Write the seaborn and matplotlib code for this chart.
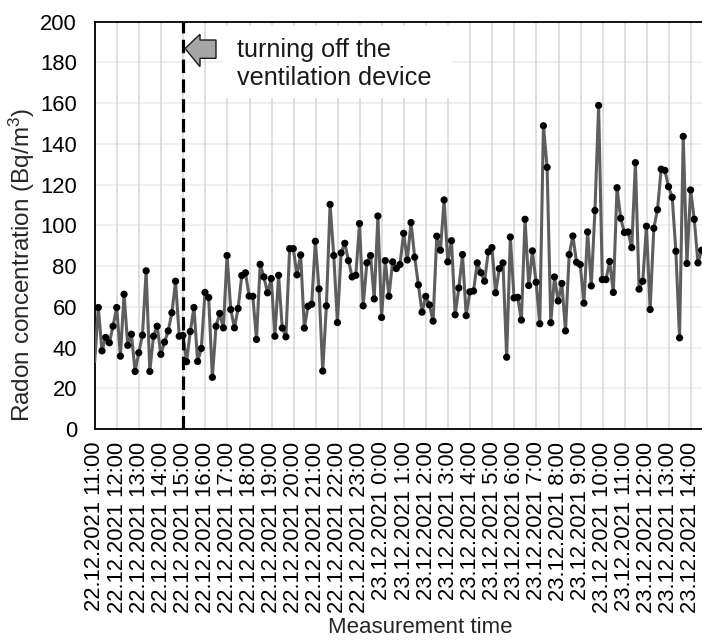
import matplotlib
matplotlib.use("Agg")
import matplotlib.pyplot as plt
import seaborn as sns
import numpy as np
import pandas as pd
from matplotlib.patches import Rectangle, Polygon

# ---- data (10-minute readings from 22.12.2021 10:59 onwards) ----
radon = [
    33.0, 59.7, 38.4, 45.0, 42.4, 50.5, 59.7, 35.8, 66.2, 41.1,
    46.6, 28.3, 37.5, 46.1, 77.7, 28.3, 45.6, 50.5, 36.7, 42.7,
    48.2, 57.1, 72.6, 45.6, 46.0, 33.1, 47.9, 59.7, 33.2, 39.6,
    67.1, 64.6, 25.4, 50.5, 56.8, 49.7, 85.2, 58.7, 49.7, 59.2,
    75.4, 76.7, 65.3, 65.2, 44.0, 80.9, 74.7, 66.9, 73.9, 45.6,
    75.5, 49.6, 45.3, 88.6, 88.6, 75.7, 85.5, 49.6, 60.3, 61.3,
    92.2, 68.8, 28.5, 60.5, 110.3, 85.2, 52.3, 86.5, 91.2, 82.7,
    74.7, 75.5, 100.9, 60.5, 81.6, 85.2, 63.9, 104.6, 54.8, 82.7,
    65.2, 82.1, 78.8, 80.8, 96.1, 83.0, 101.4, 84.4, 70.8, 57.4,
    65.2, 61.0, 53.0, 94.7, 87.8, 112.5, 82.1, 92.5, 56.1, 69.3,
    85.7, 55.7, 67.4, 67.8, 81.6, 76.8, 72.6, 87.0, 89.1, 66.9,
    78.8, 81.6, 35.3, 94.3, 64.4, 64.7, 53.5, 103.0, 70.5, 87.5,
    72.1, 51.7, 148.9, 128.5, 52.2, 74.7, 62.9, 71.5, 48.2, 85.7,
    94.8, 81.9, 80.8, 61.8, 96.8, 70.3, 107.3, 158.9, 73.4, 73.4,
    82.3, 67.1, 118.5, 103.5, 96.5, 96.8, 89.1, 130.8, 68.7, 72.6,
    99.6, 58.7, 98.6, 107.7, 127.6, 127.0, 119.0, 113.8, 87.3, 44.8,
    143.7, 81.3, 117.4, 103.0, 81.6, 87.8,
]
start = pd.Timestamp("2021-12-22 11:00")
times = pd.date_range("2021-12-22 10:59", periods=len(radon), freq="10min")
tick_times = pd.date_range("2021-12-22 11:00", "2021-12-23 14:00", freq="h")
tick_labels = [f"{t:%d.%m.%Y} {t.hour}:{t:%M}" for t in tick_times]
event_time = pd.Timestamp("2021-12-22 15:00")
event_text = "turning off the\nventilation device"

hours = (times - start) / pd.Timedelta(hours=1)
tick_pos = (tick_times - start) / pd.Timedelta(hours=1)
event_pos = (event_time - start) / pd.Timedelta(hours=1)
df = pd.DataFrame({"hours": hours, "radon": radon})

# ---- style ----
sns.set_style("white")
plt.rcParams["font.family"] = ["Liberation Sans", "DejaVu Sans"]
plt.rcParams["mathtext.fontset"] = "custom"
plt.rcParams["mathtext.rm"] = "Liberation Sans"
plt.rcParams["mathtext.it"] = "Liberation Sans"

W, H = 702, 641
fig = plt.figure(figsize=(W / 100, H / 100), dpi=100)
L, R, T, B = 95, 702, 21.7, 429.1
ax = fig.add_axes([L / W, 1 - B / H, (R - L) / W, (B - T) / H])

sns.lineplot(data=df, x="hours", y="radon", color="#5e5e5e", lw=2.2,
             ax=ax, zorder=3)
sns.scatterplot(data=df[df["hours"] >= 0], x="hours", y="radon",
                color="black", s=27, edgecolor="none", zorder=4, ax=ax)

ax.set_xlim(0, 27.5)
ax.set_ylim(0, 200)
ax.set_yticks(np.arange(0, 201, 20))
ax.set_xticks(tick_pos)
ax.set_xticklabels(tick_labels, rotation=90, fontsize=15.8)
ax.tick_params(axis="x", length=0, pad=9, colors="black")
ax.tick_params(axis="y", length=0, pad=13, labelsize=15.8, colors="black")

for y in np.arange(20, 201, 20):
    ax.axhline(y, color="#ececec", lw=1.2, zorder=0)
for x in tick_pos:
    ax.axvline(x, color="#d9d9d9", lw=1.2, zorder=0)

for side in ["left", "bottom", "top"]:
    ax.spines[side].set_color("black")
    ax.spines[side].set_linewidth(1.3)
ax.spines["right"].set_visible(False)

ax.axvline(event_pos, color="black", lw=2.3, ls=(0, (4.2, 2.0)), zorder=5)

# white text box hiding grid
def ax_x(px):
    return (px - L) / (R - L)

def ax_y(py):
    return (B - py) / (B - T)

ax.add_patch(Rectangle((ax_x(223), ax_y(98)), ax_x(452) - ax_x(223),
                       ax_y(26) - ax_y(98), transform=ax.transAxes,
                       facecolor="white", edgecolor="none", zorder=1))
ax.text(ax_x(237), ax_y(64), event_text, transform=ax.transAxes,
        fontsize=18.2, va="center", ha="left", color="#1a1a1a",
        linespacing=1.22, zorder=6)

arrow_px = [(185, 48.5), (200, 34.3), (200, 40), (216, 40),
            (216, 58.3), (200, 58.3), (200, 66.7)]
ax.add_patch(Polygon([(ax_x(x), ax_y(y)) for x, y in arrow_px],
                     closed=True, transform=ax.transAxes,
                     facecolor="#a6a6a6", edgecolor="#1a1a1a", lw=1.0,
                     zorder=6))

ax.set_xlabel("Measurement time", fontsize=16, va="top")
ax.xaxis.set_label_coords(ax_x(420), ax_y(617))
ax.set_ylabel(r"Radon concentration (Bq/m$^3$)", fontsize=17.5, va="center")
ax.yaxis.set_label_coords(ax_x(22), ax_y(265))

fig.savefig("out.png", dpi=100)
